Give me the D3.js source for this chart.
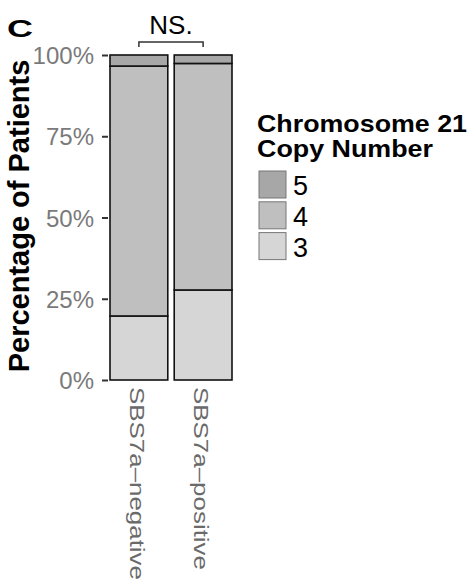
<!DOCTYPE html>
<html>
<head>
<meta charset="utf-8">
<script src="https://cdn.jsdelivr.net/npm/d3@7"></script>
<style>
  body { margin: 0; background: #fff; }
  svg { display: block; font-family: "Liberation Sans", Arial, Helvetica, sans-serif; }
</style>
</head>
<body>
<div id="chart"></div>
<script>
// data (percent of patients)
const groups = ["SBS7a\u2013negative", "SBS7a\u2013positive"];
const copyNumbers = ["3", "4", "5"];
const pct3 = [19.7, 27.7];
const pct4 = [76.9, 69.7];
const pct5 = [3.4, 2.6];
const yTicks = [0, 25, 50, 75, 100];
const legendOrder = ["5", "4", "3"];

const fills = { "3": "#d6d6d6", "4": "#bfbfbf", "5": "#a7a7a7" };

const W = 469, H = 585;
const svg = d3.select("#chart").append("svg")
  .attr("width", W)
  .attr("height", H);

const x = d3.scaleBand()
  .domain(groups)
  .range([110, 232])
  .paddingInner(0.1)
  .paddingOuter(0);

const y = d3.scaleLinear().domain([0, 100]).range([380, 55]);

// stack the three copy-number series
const rows = groups.map((g, i) => ({ group: g, "3": pct3[i], "4": pct4[i], "5": pct5[i] }));
const stacked = d3.stack().keys(copyNumbers)(rows);

svg.append("g")
  .selectAll("g")
  .data(stacked)
  .join("g")
  .attr("fill", d => fills[d.key])
  .selectAll("rect")
  .data(d => d)
  .join("rect")
  .attr("x", d => x(d.data.group))
  .attr("y", d => y(d[1]))
  .attr("width", x.bandwidth())
  .attr("height", d => y(d[0]) - y(d[1]))
  .attr("stroke", "#111")
  .attr("stroke-width", 1.6);

// y axis
const yAxis = svg.append("g")
  .attr("transform", "translate(108,0)")
  .call(d3.axisLeft(y).tickValues(yTicks).tickSize(6).tickPadding(8).tickFormat(d => d + "%"));
yAxis.select(".domain").remove();
yAxis.selectAll(".tick line").attr("stroke", "#333").attr("stroke-width", 2);
yAxis.selectAll(".tick text")
  .attr("fill", "#7a7a7a")
  .style("font-size", "24px")
  .attr("dy", "0.36em");

// y title
svg.append("text")
  .attr("transform", "translate(29,216) rotate(-90)")
  .attr("text-anchor", "middle")
  .style("font-size", "29px")
  .style("font-weight", "bold")
  .attr("fill", "#000")
  .text("Percentage of Patients");

// x labels, reading top to bottom
const xLabLen = [193, 183];
svg.append("g")
  .selectAll("text")
  .data(groups)
  .join("text")
  .attr("transform", (d, i) => `translate(${x(d) + x.bandwidth() / 2 - 9},387) rotate(90)`)
  .attr("fill", "#6a6a6a")
  .style("font-size", "21px")
  .attr("textLength", (d, i) => xLabLen[i])
  .attr("lengthAdjust", "spacingAndGlyphs")
  .text(d => d);

// panel letter
svg.append("text")
  .attr("x", 7)
  .attr("y", 37)
  .style("font-size", "24px")
  .style("font-weight", "bold")
  .attr("textLength", 26)
  .attr("lengthAdjust", "spacingAndGlyphs")
  .text("C");

// significance bracket
const bx1 = x(groups[0]) + x.bandwidth() / 2;
const bx2 = x(groups[1]) + x.bandwidth() / 2;
svg.append("path")
  .attr("d", `M${bx1},47V42H${bx2}V47`)
  .attr("fill", "none")
  .attr("stroke", "#333")
  .attr("stroke-width", 1.5);
svg.append("text")
  .attr("x", (bx1 + bx2) / 2)
  .attr("y", 34)
  .attr("text-anchor", "middle")
  .style("font-size", "26px")
  .text("NS.");

// legend
const legend = svg.append("g");
legend.append("text")
  .attr("x", 257).attr("y", 132)
  .style("font-size", "24px").style("font-weight", "bold")
  .attr("textLength", 210).attr("lengthAdjust", "spacingAndGlyphs")
  .text("Chromosome 21");
legend.append("text")
  .attr("x", 257).attr("y", 157)
  .style("font-size", "24px").style("font-weight", "bold")
  .attr("textLength", 176).attr("lengthAdjust", "spacingAndGlyphs")
  .text("Copy Number");

const keys = legend.selectAll("g.key")
  .data(legendOrder)
  .join("g")
  .attr("class", "key")
  .attr("transform", (d, i) => `translate(259,${171 + i * 30.8})`);
keys.append("rect")
  .attr("width", 27).attr("height", 27)
  .attr("fill", d => fills[d])
  .attr("stroke", "#777")
  .attr("stroke-width", 1);
keys.append("text")
  .attr("x", 34).attr("y", 24)
  .style("font-size", "27px")
  .text(d => d);
</script>
</body>
</html>
